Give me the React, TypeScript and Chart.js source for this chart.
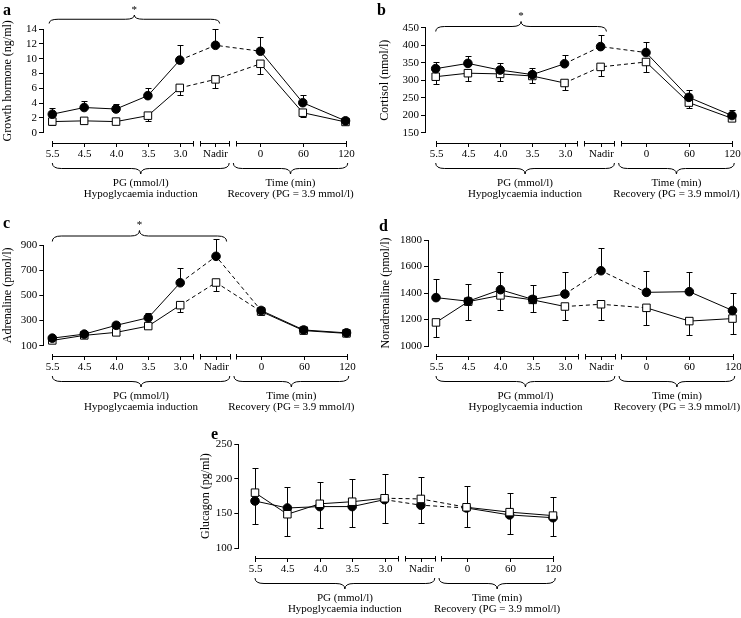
import React, { useEffect, useRef } from 'react';
import { Chart, registerables } from 'chart.js';

Chart.register(...registerables);

const FONT = "'Liberation Serif', 'Times New Roman', Times, serif";
Chart.defaults.font.family = FONT;
Chart.defaults.color = '#000';

// ---------- shared x axis ----------
const X_LABELS = ['5.5', '4.5', '4.0', '3.5', '3.0', 'Nadir', '0', '60', '120'];
const X_POS = [0, 1, 2, 3, 4, 5.12, 6.53, 7.86, 9.2];
const AXIS_SEGMENTS = [[0, 4.4], [4.62, 5.55], [5.75, 9.2]];
const GROUP_SPANS = [[0, 5.55], [5.68, 9.27]];
const GROUP_TEXT = [
  ['PG (mmol/l)', 'Hypoglycaemia induction'],
  ['Time (min)', 'Recovery (PG = 3.9 mmol/l)'],
];
const DASH_FROM = 4;
const DASH_TO = 6;

// ---------- a: growth hormone ----------
const GH_FILLED = [2.5, 3.4, 3.2, 5.0, 9.8, 11.8, 11.0, 4.05, 1.6];
const GH_FILLED_ERR = [0.8, 0.9, 0.7, 1.0, 2.0, 2.2, 1.9, 1.0, 0.3];
const GH_OPEN = [1.5, 1.6, 1.5, 2.3, 6.05, 7.2, 9.3, 2.7, 1.45];
const GH_OPEN_ERR = [-0.5, -0.2, -0.2, -0.7, -1.0, -1.2, -1.4, -0.6, -0.2];

// ---------- b: cortisol ----------
const CORT_FILLED = [333, 348, 329, 316, 347, 396, 379, 251, 199];
const CORT_FILLED_ERR = [20, 20, 19, 19, 26, 33, 31, 21, 17];
const CORT_OPEN = [310, 320, 318, 312, 292, 338, 352, 236, 191];
const CORT_OPEN_ERR = [-22, -22, -20, -20, -21, -25, -28, -14, -5];

// ---------- c: adrenaline ----------
const ADR_FILLED = [160, 192, 262, 322, 600, 810, 380, 225, 202];
const ADR_FILLED_ERR = [12, 12, 25, 38, 118, 140, 25, 15, 12];
const ADR_OPEN = [142, 182, 206, 256, 422, 602, 372, 220, 198];
const ADR_OPEN_ERR = [-10, -12, -12, -15, -52, -70, -25, -15, -12];

// ---------- d: noradrenaline ----------
const NA_FILLED = [1365, 1338, 1425, 1352, 1392, 1568, 1405, 1410, 1268];
const NA_FILLED_ERR = [138, 128, 135, 105, 165, 170, 158, 152, 135];
const NA_OPEN = [1178, 1335, 1382, 1348, 1298, 1315, 1288, 1188, 1207];
const NA_OPEN_ERR = [-110, -135, -110, -95, -105, -115, -133, -103, -117];

// ---------- e: glucagon ----------
const GLU_FILLED = [168, 158, 160, 160, 170, 162, 158, 148, 144];
const GLU_FILLED_ERR = [-33, 30, -31, -30, -33, -26, -27, -28, -26];
const GLU_OPEN = [180, 149, 164, 167, 172, 171, 159, 152, 147];
const GLU_OPEN_ERR = [35, -31, 32, 33, 35, 32, 30, 28, 27];

type Layout = {
  axisX: number; yTop: number; yBottom: number; x0: number; xEnd: number;
  titleX: number; letterX: number; letterY: number;
};
type Star = { from: number; to: number; y: number; h: number } | null;
type PanelCfg = {
  letter: string; title: string; yMin: number; yMax: number; yStep: number;
  filled: number[]; filledErr: number[]; open: number[]; openErr: number[];
  openOnTop: boolean; star: Star; layout: Layout;
};

const PANELS: PanelCfg[] = [
  {
    letter: 'a', title: 'Growth hormone (ng/ml)', yMin: 0, yMax: 14, yStep: 2,
    filled: GH_FILLED, filledErr: GH_FILLED_ERR, open: GH_OPEN, openErr: GH_OPEN_ERR,
    openOnTop: false, star: { from: -0.1, to: 5.25, y: 23.5, h: 8.5 },
    layout: { axisX: 43, yTop: 29, yBottom: 132.7, x0: 52.3, xEnd: 345.5, titleX: 8, letterX: 3, letterY: 15 },
  },
  {
    letter: 'b', title: 'Cortisol (nmol/l)', yMin: 150, yMax: 450, yStep: 50,
    filled: CORT_FILLED, filledErr: CORT_FILLED_ERR, open: CORT_OPEN, openErr: CORT_OPEN_ERR,
    openOnTop: false, star: { from: 0, to: 5.3, y: 31.5, h: 10 },
    layout: { axisX: 425, yTop: 27.7, yBottom: 132.7, x0: 435.7, xEnd: 732, titleX: 385, letterX: 377, letterY: 15 },
  },
  {
    letter: 'c', title: 'Adrenaline (pmol/l)', yMin: 100, yMax: 900, yStep: 200,
    filled: ADR_FILLED, filledErr: ADR_FILLED_ERR, open: ADR_OPEN, openErr: ADR_OPEN_ERR,
    openOnTop: false, star: { from: 0, to: 5.45, y: 241.5, h: 11 },
    layout: { axisX: 43.3, yTop: 245, yBottom: 345.7, x0: 52.3, xEnd: 346.5, titleX: 8, letterX: 3, letterY: 228 },
  },
  {
    letter: 'd', title: 'Noradrenaline (pmol/l)', yMin: 1000, yMax: 1800, yStep: 200,
    filled: NA_FILLED, filledErr: NA_FILLED_ERR, open: NA_OPEN, openErr: NA_OPEN_ERR,
    openOnTop: false, star: null,
    layout: { axisX: 428, yTop: 240, yBottom: 346, x0: 436, xEnd: 732.5, titleX: 385.5, letterX: 379, letterY: 231 },
  },
  {
    letter: 'e', title: 'Glucagon (pg/ml)', yMin: 100, yMax: 250, yStep: 50,
    filled: GLU_FILLED, filledErr: GLU_FILLED_ERR, open: GLU_OPEN, openErr: GLU_OPEN_ERR,
    openOnTop: true, star: null,
    layout: { axisX: 238.3, yTop: 444, yBottom: 548.3, x0: 255, xEnd: 553, titleX: 206, letterX: 211, letterY: 438.5 },
  },
];

const W = 741;
const H = 618;

function brace(ctx: CanvasRenderingContext2D, x1: number, x2: number, y: number, h: number, dir: number) {
  const xm = (x1 + x2) / 2;
  const q = h / 2;
  const r = Math.min(9, (x2 - x1) / 4);
  ctx.beginPath();
  ctx.moveTo(x1, y);
  ctx.quadraticCurveTo(x1, y + dir * q, x1 + r, y + dir * q);
  ctx.lineTo(xm - r, y + dir * q);
  ctx.quadraticCurveTo(xm, y + dir * q, xm, y + dir * h);
  ctx.quadraticCurveTo(xm, y + dir * q, xm + r, y + dir * q);
  ctx.lineTo(x2 - r, y + dir * q);
  ctx.quadraticCurveTo(x2, y + dir * q, x2, y);
  ctx.stroke();
}

function decoPlugin(p: PanelCfg) {
  return {
    id: 'deco' + p.letter,
    beforeDatasetsDraw(chart: any) {
      const ctx: CanvasRenderingContext2D = chart.ctx;
      const xs = chart.scales.x;
      const ys = chart.scales.y;
      ctx.save();
      ctx.strokeStyle = '#000';
      ctx.lineWidth = 1;
      const bars = (vals: number[], errs: number[]) => {
        vals.forEach((v, i) => {
          const e = errs[i];
          if (!e) return;
          const px = Math.round(xs.getPixelForValue(X_POS[i])) + 0.5;
          const y0 = ys.getPixelForValue(v);
          const y1 = Math.round(ys.getPixelForValue(v + e)) + 0.5;
          ctx.beginPath();
          ctx.moveTo(px, y0);
          ctx.lineTo(px, y1);
          ctx.moveTo(px - 3, y1);
          ctx.lineTo(px + 3, y1);
          ctx.stroke();
        });
      };
      bars(p.filled, p.filledErr);
      bars(p.open, p.openErr);
      ctx.restore();
    },
    afterDraw(chart: any) {
      const ctx: CanvasRenderingContext2D = chart.ctx;
      const xs = chart.scales.x;
      const ca = chart.chartArea;
      const axisY = Math.round(ca.bottom + 10) + 0.5;
      ctx.save();
      ctx.strokeStyle = '#000';
      ctx.fillStyle = '#000';
      ctx.lineWidth = 1;
      // segmented x axis
      AXIS_SEGMENTS.forEach(([a, b]) => {
        const x1 = Math.round(xs.getPixelForValue(a)) + 0.5;
        const x2 = Math.round(xs.getPixelForValue(b)) + 0.5;
        ctx.beginPath();
        ctx.moveTo(x1, axisY);
        ctx.lineTo(x2, axisY);
        ctx.moveTo(x1, axisY - 2.5);
        ctx.lineTo(x1, axisY + 3);
        ctx.moveTo(x2, axisY - 2.5);
        ctx.lineTo(x2, axisY + 3);
        ctx.stroke();
      });
      ctx.font = `11px ${FONT}`;
      ctx.textAlign = 'center';
      ctx.textBaseline = 'middle';
      X_POS.forEach((v, i) => {
        const px = Math.round(xs.getPixelForValue(v)) + 0.5;
        ctx.beginPath();
        ctx.moveTo(px, axisY);
        ctx.lineTo(px, axisY + 3.5);
        ctx.stroke();
        ctx.fillText(X_LABELS[i], px, axisY + 10.5);
      });
      // group braces and captions
      GROUP_SPANS.forEach(([a, b], g) => {
        const x1 = xs.getPixelForValue(a);
        const x2 = xs.getPixelForValue(b);
        brace(ctx, x1, x2, axisY + 19.5, 11, 1);
        const xm = (x1 + x2) / 2;
        ctx.fillText(GROUP_TEXT[g][0], xm, axisY + 40);
        ctx.fillText(GROUP_TEXT[g][1], xm, axisY + 51);
      });
      // significance brace
      if (p.star) {
        const x1 = xs.getPixelForValue(p.star.from);
        const x2 = xs.getPixelForValue(p.star.to);
        brace(ctx, x1, x2, p.star.y, p.star.h, -1);
        ctx.textBaseline = 'alphabetic';
        ctx.fillText('*', (x1 + x2) / 2, p.star.y - p.star.h - 2.2);
      }
      // panel letter
      ctx.font = `bold 16px ${FONT}`;
      ctx.textAlign = 'left';
      ctx.textBaseline = 'alphabetic';
      ctx.fillText(p.letter, p.layout.letterX, p.layout.letterY);
      ctx.restore();
    },
  };
}

function buildConfig(p: PanelCfg): any {
  const L = p.layout;
  const last = X_POS[X_POS.length - 1];
  const u = (L.xEnd - L.x0) / last;
  const xMin = -(L.x0 - L.axisX) / u;
  const yW = L.axisX - (L.titleX - 7.2);
  const mk = (vals: number[]) => vals.map((v, i) => ({ x: X_POS[i], y: v }));
  const dash = (c: any) => (c.p0DataIndex >= DASH_FROM && c.p1DataIndex <= DASH_TO ? [4, 3] : undefined);
  const filledDs = {
    label: 'filled', data: mk(p.filled), borderColor: '#000', borderWidth: 1, backgroundColor: '#000',
    pointStyle: 'circle', pointRadius: 4.3, pointBorderWidth: 1, pointBackgroundColor: '#000', pointBorderColor: '#000',
    tension: 0, clip: false, segment: { borderDash: dash }, order: p.openOnTop ? 1 : 0,
  };
  const openDs = {
    label: 'open', data: mk(p.open), borderColor: '#000', borderWidth: 1, backgroundColor: '#fff',
    pointStyle: 'rect', pointRadius: 5.3, pointBorderWidth: 1, pointBackgroundColor: '#fff', pointBorderColor: '#000',
    tension: 0, clip: false, segment: { borderDash: dash }, order: p.openOnTop ? 0 : 1,
  };
  return {
    type: 'line',
    data: { datasets: [filledDs, openDs] },
    options: {
      responsive: false,
      animation: false,
      events: [],
      layout: { padding: { left: L.axisX - yW, top: L.yTop, right: W - L.xEnd, bottom: H - L.yBottom } },
      plugins: { legend: { display: false }, tooltip: { enabled: false }, title: { display: false } },
      scales: {
        x: { type: 'linear', display: false, min: xMin, max: last },
        y: {
          type: 'linear', min: p.yMin, max: p.yMax,
          afterFit: (s: any) => { s.width = yW; },
          ticks: {
            stepSize: p.yStep, color: '#000', font: { family: FONT, size: 11 }, padding: 2, autoSkip: false,
            callback: (v: any) => String(v),
          },
          grid: { display: true, drawOnChartArea: false, drawTicks: true, tickLength: 4, color: '#000', lineWidth: 1 },
          border: { display: true, color: '#000', width: 1 },
          title: { display: true, text: p.title, color: '#000', font: { family: FONT, size: 12 }, padding: 0 },
        },
      },
    },
    plugins: [decoPlugin(p)],
  };
}

function Panel({ cfg }: { cfg: PanelCfg }) {
  const ref = useRef<HTMLCanvasElement | null>(null);
  useEffect(() => {
    if (!ref.current) return;
    const chart = new Chart(ref.current, buildConfig(cfg));
    return () => chart.destroy();
  }, [cfg]);
  return (
    <canvas
      ref={ref}
      width={W}
      height={H}
      style={{ position: 'absolute', left: 0, top: 0, width: W, height: H }}
    />
  );
}

export default function App() {
  return (
    <div style={{ position: 'absolute', left: 0, top: 0, width: W, height: H, background: '#fff', overflow: 'hidden' }}>
      {PANELS.map((p) => (
        <Panel key={p.letter} cfg={p} />
      ))}
    </div>
  );
}
